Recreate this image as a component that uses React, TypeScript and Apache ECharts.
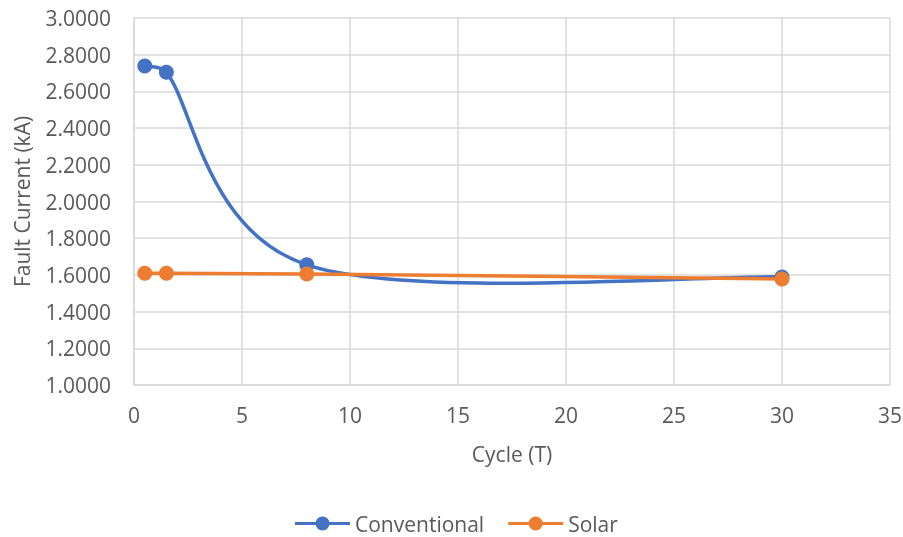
import React, { useEffect, useRef } from "react";
import * as echarts from "echarts";

const cycles = [0.5, 1.5, 8, 30];
const conventional = [2.738, 2.704, 1.655, 1.589];
const solar = [1.609, 1.609, 1.605, 1.578];
const seriesNames = ["Conventional", "Solar"];
const seriesColors = ["#4472C4", "#ED7D31"];

const FONT = "'Open Sans', 'Liberation Sans', sans-serif";
const FS = 21;
const TEXT = "#595959";
const GRID = "#d9d9d9";

const ICON =
  "path://M0,5.5H55V8.5H0Z M34.5,7A7,7,0,1,1,20.5,7A7,7,0,1,1,34.5,7Z";

function clampVec(v: number[], maxLen: number) {
  const len = Math.hypot(v[0], v[1]);
  if (len > maxLen && len > 0) return [(v[0] * maxLen) / len, (v[1] * maxLen) / len];
  return v;
}

function smoothRender(points: number[][], color: string) {
  return (params: any, api: any) => {
    if (params.dataIndex !== 0) return null;
    const pts = points.map((p) => api.coord(p));
    const n = pts.length;
    const children: any[] = [];
    for (let i = 0; i < n - 1; i++) {
      const p0 = pts[Math.max(i - 1, 0)];
      const p1 = pts[i];
      const p2 = pts[i + 1];
      const p3 = pts[Math.min(i + 2, n - 1)];
      const chord = Math.hypot(p2[0] - p1[0], p2[1] - p1[1]);
      const t1 = clampVec([(p2[0] - p0[0]) / 6, (p2[1] - p0[1]) / 6], chord * 0.45);
      const t2 = clampVec([(p3[0] - p1[0]) / 6, (p3[1] - p1[1]) / 6], chord * 0.45);
      children.push({
        type: "bezierCurve",
        shape: {
          x1: p1[0],
          y1: p1[1],
          x2: p2[0],
          y2: p2[1],
          cpx1: p1[0] + t1[0],
          cpy1: p1[1] + t1[1],
          cpx2: p2[0] - t2[0],
          cpy2: p2[1] - t2[1],
        },
        style: { stroke: color, lineWidth: 3.5, fill: null, lineCap: "round" },
        silent: true,
      });
    }
    return { type: "group", children };
  };
}

export default function App() {
  const ref = useRef<HTMLDivElement>(null);
  useEffect(() => {
    if (!ref.current) return;
    const chart = echarts.init(ref.current, null, { renderer: "svg" });
    const allSeries = [conventional, solar];
    const series: any[] = [];
    allSeries.forEach((vals, si) => {
      const pts = cycles.map((c, i) => [c, vals[i]]);
      series.push({
        type: "custom",
        name: seriesNames[si],
        data: pts,
        encode: { x: 0, y: 1 },
        itemStyle: { color: seriesColors[si] },
        renderItem: smoothRender(pts, seriesColors[si]),
        silent: true,
      });
      series.push({
        type: "scatter",
        name: seriesNames[si],
        data: pts,
        symbol: "circle",
        symbolSize: 15,
        itemStyle: { color: seriesColors[si], opacity: 1 },
        silent: true,
      });
    });
    chart.setOption({
      animation: false,
      textStyle: { fontFamily: FONT },
      grid: {
        left: 134,
        right: 13,
        top: 18,
        bottom: 152,
        containLabel: false,
        outerBoundsMode: "none",
      },
      legend: {
        left: 295,
        top: 513,
        padding: 0,
        itemWidth: 55,
        itemHeight: 14,
        itemGap: 24,
        data: seriesNames.map((n) => ({ name: n, icon: ICON })),
        textStyle: { fontSize: FS, lineHeight: 21, color: TEXT, fontFamily: FONT },
      },
      xAxis: {
        type: "value",
        min: 0,
        max: 35,
        interval: 5,
        name: "Cycle (T)",
        nameLocation: "middle",
        nameGap: 58,
        nameTextStyle: { fontSize: FS, color: TEXT, fontFamily: FONT },
        axisLine: { show: true, lineStyle: { color: GRID, width: 1.5 } },
        axisTick: { show: false },
        axisLabel: { fontSize: FS, color: TEXT, margin: 19, fontFamily: FONT },
        splitLine: { show: true, lineStyle: { color: GRID, width: 1.5 } },
      },
      yAxis: {
        type: "value",
        min: 1,
        max: 3,
        interval: 0.2,
        name: "Fault Current (kA)",
        nameLocation: "middle",
        nameGap: 102,
        nameTextStyle: { fontSize: FS, color: TEXT, fontFamily: FONT },
        axisLine: { show: true, lineStyle: { color: GRID, width: 1.5 } },
        axisTick: { show: false },
        axisLabel: {
          fontSize: FS,
          color: TEXT,
          margin: 23,
          fontFamily: FONT,
          formatter: (v: number) => v.toFixed(4),
        },
        splitLine: { show: true, lineStyle: { color: GRID, width: 1.5 } },
      },
      series,
    });
    return () => chart.dispose();
  }, []);
  return (
    <div
      ref={ref}
      style={{ position: "fixed", left: 0, top: 0, width: 903, height: 537 }}
    />
  );
}
